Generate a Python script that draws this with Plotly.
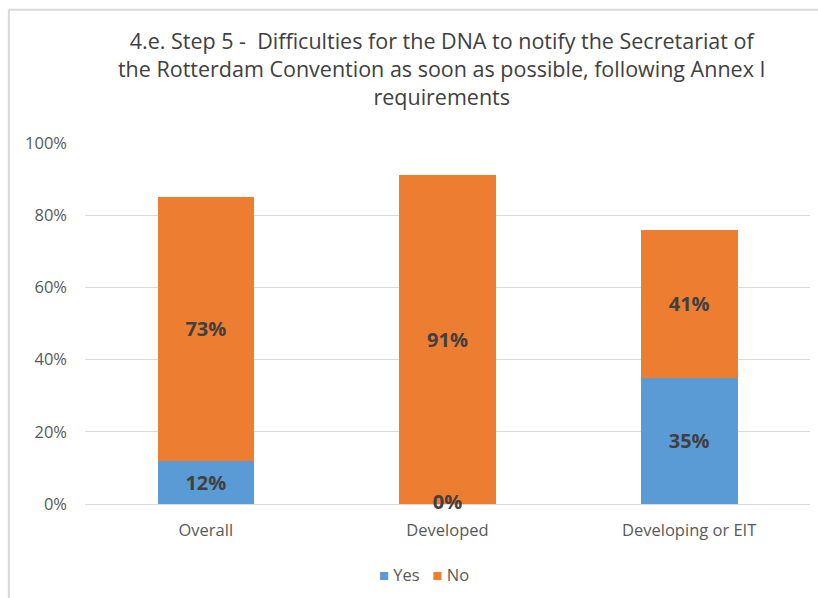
import plotly.graph_objects as go

categories = ["Overall", "Developed", "Developing or EIT"]
yes_values = [12, 0, 35]
no_values = [73, 91, 41]
tick_values = [0, 20, 40, 60, 80, 100]
tick_labels = ["0%", "20%", "40%", "60%", "80%", "100%"]
series_names = ["Yes", "No"]
series_colors = ["#5B9BD5", "#ED7D31"]

title_text = ("4.e. Step 5 -  Difficulties for the DNA to notify the Secretariat of<br>"
              "the Rotterdam Convention as soon as possible, following Annex I<br>"
              "requirements")

FONT = "Open Sans"
label_font = dict(family=FONT, size=20, color="#404040")
tick_font = dict(family=FONT, size=16.5, color="#595959")

fig = go.Figure()
for name, color, values in zip(series_names, series_colors, [yes_values, no_values]):
    fig.add_trace(go.Bar(
        x=categories, y=values, name=name,
        marker=dict(color=color, line=dict(width=0)),
        text=[f"<b>{v}%</b>" for v in values],
        textposition="inside", insidetextanchor="middle",
        textfont=label_font, constraintext="none",
        showlegend=False,
    ))

# zero-height segments keep their label, centred on the baseline
zero_x = [c for c, v in zip(categories, yes_values) if v == 0]
zero_y = [v for v in yes_values if v == 0]
fig.add_trace(go.Scatter(
    x=zero_x, y=zero_y, mode="text",
    text=[f"<b>{v}%</b>" for v in zero_y],
    textposition="middle center", textfont=label_font,
    cliponaxis=False, showlegend=False, hoverinfo="skip",
))

# compact legend line: coloured squares followed by series names
legend_text = "   ".join(
    f'<span style="color:{c}">■</span> {n}' for n, c in zip(series_names, series_colors)
)
fig.add_annotation(
    text=legend_text, xref="paper", yref="paper", x=0.468, y=-0.195,
    xanchor="center", yanchor="middle", showarrow=False,
    font=dict(family=FONT, size=16.5, color="#595959"),
)

fig.update_layout(
    barmode="stack",
    bargap=0.6,
    width=818, height=598,
    margin=dict(l=85, r=8, t=143, b=94),
    paper_bgcolor="white", plot_bgcolor="white",
    font=dict(family=FONT, color="#595959"),
    uniformtext=dict(minsize=8, mode="show"),
    title=dict(text=title_text, x=0.54, xanchor="center", y=0.918, yanchor="top",
               font=dict(family=FONT, size=21.5, color="#404040")),
    showlegend=False,
    xaxis=dict(showline=False, ticks="", tickfont=tick_font, ticklabelstandoff=14),
    yaxis=dict(range=[0, 100], tickvals=tick_values, ticktext=tick_labels,
               showgrid=True, gridcolor="#D9D9D9", gridwidth=1,
               zeroline=True, zerolinecolor="#D9D9D9", zerolinewidth=1,
               showline=False, ticks="", ticklabelstandoff=17,
               tickfont=tick_font),
    shapes=[
        dict(type="line", xref="paper", yref="paper", x0=-0.105, x1=1.02, y0=1.369, y1=1.369,
             line=dict(color="#D9D9D9", width=2)),
        dict(type="line", xref="paper", yref="paper", x0=-0.105, x1=-0.105, y0=-0.3, y1=1.37,
             line=dict(color="#D9D9D9", width=2)),
    ],
)

fig.write_html("out.html")
